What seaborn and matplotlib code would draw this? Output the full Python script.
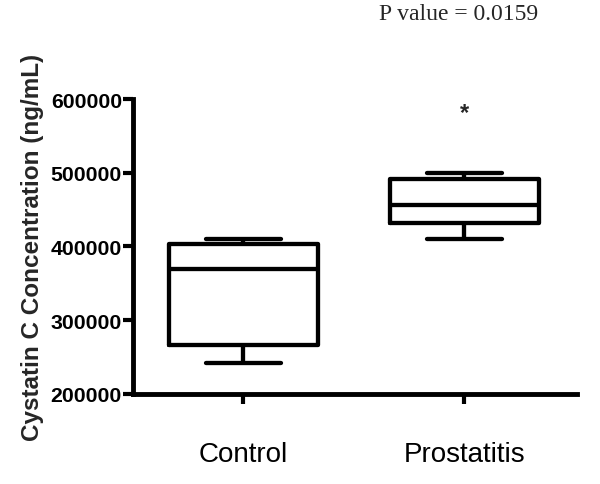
import matplotlib
matplotlib.use("Agg")
import matplotlib.pyplot as plt
import seaborn as sns
import pandas as pd

groups = ["Control", "Prostatitis"]
control_values = [241400, 266400, 369500, 403400, 410800]
prostatitis_values = [410200, 431900, 456300, 492200, 500300]
y_ticks = [200000, 300000, 400000, 500000, 600000]
y_label = "Cystatin C Concentration (ng/mL)"
p_text = "P value = 0.0159"
star_value = 582000

df = pd.DataFrame({
    "group": [groups[0]] * len(control_values) + [groups[1]] * len(prostatitis_values),
    "value": control_values + prostatitis_values,
})

sns.set_style("ticks")
plt.rcParams["font.family"] = ["Liberation Sans", "DejaVu Sans"]

fig = plt.figure(figsize=(6, 4.85), dpi=100)
ax = fig.add_axes([0.2217, 0.1856, 0.74, 0.6082])

sns.boxplot(data=df, x="group", y="value", order=groups, whis=(0, 100),
            fill=False, color="black", linecolor="black", linewidth=3.1,
            width=0.675, ax=ax)

ax.set_ylim(200000, 600000)
ax.set_xlim(-0.5, 1.51)
ax.set_yticks(y_ticks)
ax.set_yticklabels([str(v) for v in y_ticks], fontsize=15.3, fontweight="bold")
ax.set_xticks([0, 1])
ax.set_xticklabels(groups, fontsize=20)
ax.set_xlabel("")
ax.set_ylabel(y_label, fontsize=17.5, fontweight="bold", labelpad=5)

for s in ["top", "right"]:
    ax.spines[s].set_visible(False)
for s in ["left", "bottom"]:
    ax.spines[s].set_linewidth(3.5)
    ax.spines[s].set_color("black")
ax.tick_params(axis="y", length=7, width=3, pad=1, colors="black")
ax.tick_params(axis="x", length=7, width=3, pad=27, colors="black")

ax.text(1, star_value, "*", ha="center", va="center", fontsize=17, fontweight="bold")
fig.text(459 / 600, 1 - 14 / 485, p_text, ha="center", va="center",
         fontsize=17, family=["Liberation Serif", "DejaVu Serif"])

fig.savefig("out.png", dpi=100, facecolor="white")
